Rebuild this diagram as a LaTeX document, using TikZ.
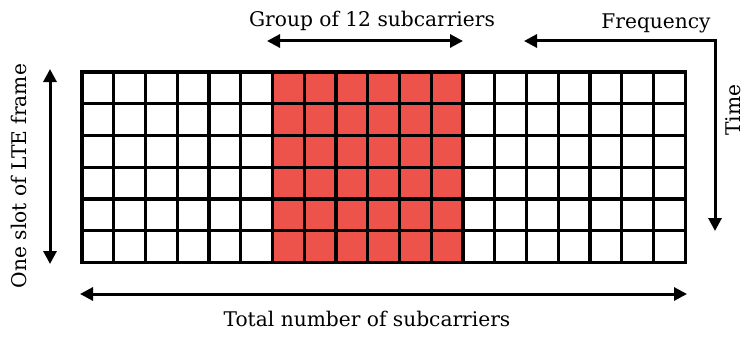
\documentclass[tikz,border=0pt]{standalone}
\usepackage{fontspec}
\setmainfont{DejaVu Serif}
\usetikzlibrary{arrows.meta}
\definecolor{cellred}{RGB}{237,83,74}
\tikzset{
  gridline/.style={line width=3.4pt, line cap=rect},
  dimarrow/.style={line width=3pt, {Triangle[length=13pt,width=13pt]}-{Triangle[length=13pt,width=13pt]}},
  lbl/.style={font=\fontsize{20.2}{24}\selectfont, inner sep=0pt}
}
\begin{document}
\begin{tikzpicture}[x=1pt,y=-1pt]
\useasboundingbox (0,0) rectangle (744,337);
\def\cw{31.75}
% red block
\fill[cellred] (82+6*\cw,72) rectangle (82+12*\cw,72+6*\cw);
% grid
\foreach \i in {0,...,19} {
  \draw[gridline] (82+\i*\cw,72) -- (82+\i*\cw,72+6*\cw);
}
\foreach \j in {0,...,6} {
  \draw[gridline] (82,72+\j*\cw) -- (82+19*\cw,72+\j*\cw);
}
\node[inner sep=0pt, minimum width=19*\cw, minimum height=6*\cw, anchor=north west] (grid) at (82,72) {};
% labels
\node[lbl, anchor=base] (group) at (372,27) {Group of 12 subcarriers};
\node[lbl, anchor=base] (freq) at (656,29) {Frequency};
\node[lbl, anchor=base, rotate=90] (time) at (740,110) {Time};
\node[lbl, anchor=base, rotate=90] (slot) at (27,176) {One slot of LTE frame};
\node[lbl, anchor=base] (total) at (367,326) {Total number of subcarriers};
% arrow coordinates
\coordinate (gl) at (267,41);
\coordinate (gr) at (463,41);
\coordinate (fl) at (524,41);
\coordinate (fc) at (715,41);
\coordinate (fb) at (715,231);
\coordinate (st) at (50,69);
\coordinate (sb) at (50,264);
\coordinate (tl) at (80,294);
\coordinate (tr) at (687,294);
\draw[dimarrow] (gl) -- (gr);
\draw[dimarrow] (fl) -- (fc) -- (fb);
\draw[dimarrow] (st) -- (sb);
\draw[dimarrow] (tl) -- (tr);
\end{tikzpicture}
\end{document}
